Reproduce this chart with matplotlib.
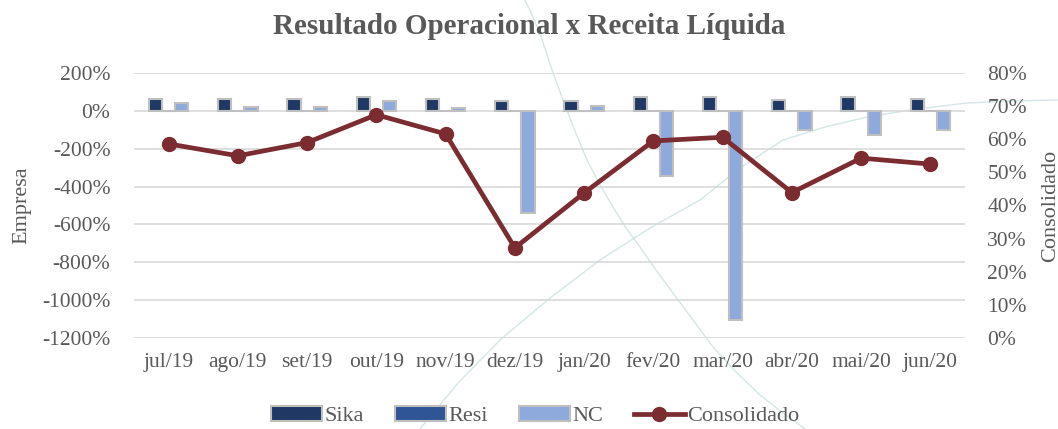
import numpy as np
import matplotlib.pyplot as plt
from matplotlib.ticker import FuncFormatter

meses = ['jul/19', 'ago/19', 'set/19', 'out/19', 'nov/19', 'dez/19',
         'jan/20', 'fev/20', 'mar/20', 'abr/20', 'mai/20', 'jun/20']
sika = [65, 60, 62, 72, 63, 50, 50, 72, 72, 58, 72, 62]
resi = [0, 0, 0, 0, 0, 0, 0, 0, 0, 0, 0, 0]
nc = [40, 22, 22, 50, 17, -541, 25, -342, -1106, -100, -127, -100]
consolidado = [58.6, 55.0, 59.0, 67.4, 61.6, 27.2, 43.8, 59.5, 60.6, 43.9, 54.3, 52.5]

plt.rcParams['font.family'] = ['Liberation Serif', 'DejaVu Serif']
cinza = '#595959'

fig = plt.figure(figsize=(10.58, 4.29), dpi=100)
W, H = 1058, 429

# faint decorative arcs behind the chart
deco = fig.add_axes([0, 0, 1, 1], zorder=-1)
deco.set_xlim(0, W)
deco.set_ylim(H, 0)
deco.axis('off')
arcos = [
    [(525, 0), (533, 17), (540, 33), (551, 67), (563, 100), (575, 131), (587, 160),
     (600, 185), (613, 207), (626, 228), (640, 247), (656, 270), (673, 293),
     (693, 320), (713, 347), (736, 372), (760, 395), (783, 413), (805, 429)],
    [(420, 429), (458, 383), (500, 340), (550, 298), (600, 260), (650, 228),
     (700, 200), (740, 168), (783, 140), (825, 127), (867, 117), (917, 109),
     (967, 103), (1010, 101), (1058, 100)],
]
for pts in arcos:
    px, py = zip(*pts)
    deco.plot(px, py, color='#C7DEDE', lw=1, alpha=0.75)

ax = fig.add_axes([134 / W, 1 - 338 / H, (965 - 134) / W, (338 - 73) / H])
ax2 = ax.twinx()
ax.patch.set_visible(False)
ax2.patch.set_visible(False)

x = np.arange(len(meses))
w = 0.19
ax.bar(x - w, sika, w, color='#1F3864', edgecolor='#BFBFBF', lw=1.5, label='Sika', zorder=3)
ax.bar(x, resi, w, color='#2F5597', edgecolor='#BFBFBF', lw=1.5, label='Resi', zorder=3)
ax.bar(x + w, nc, w, color='#8EA9DB', edgecolor='#BFBFBF', lw=1.5, label='NC', zorder=3)

ax2.plot(x, consolidado, color='#7B2C31', lw=3.4, marker='o', ms=10, label='Consolidado', zorder=4)

ax.set_xlim(-0.5, len(meses) - 0.5)
ax.set_ylim(-1200, 200)
ax.set_yticks(np.arange(-1200, 201, 200))
ax.yaxis.set_major_formatter(FuncFormatter(lambda v, p: f'{v:.0f}%'))
ax2.set_ylim(0, 80)
ax2.set_yticks(np.arange(0, 81, 10))
ax2.yaxis.set_major_formatter(FuncFormatter(lambda v, p: f'{v:.0f}%'))

ax.grid(axis='y', color='#D9D9D9', lw=1.2, zorder=0)
ax.set_axisbelow(True)
for a in (ax, ax2):
    for s in a.spines.values():
        s.set_visible(False)
    a.tick_params(length=0, labelsize=15.5, labelcolor=cinza)
ax.tick_params(axis='y', pad=17)
ax2.tick_params(axis='y', pad=16)
ax.tick_params(axis='x', pad=11)
ax.set_xticks(x)
ax.set_xticklabels(meses)

ax.set_ylabel('Empresa', fontsize=16, color=cinza, labelpad=8)
ax2.set_ylabel('Consolidado', fontsize=16, color=cinza, labelpad=10)

fig.text(0.5, 1 - 26 / H, 'Resultado Operacional x Receita Líquida', ha='center', va='center',
         fontsize=21, fontweight='bold', color=cinza)

h1, l1 = ax.get_legend_handles_labels()
h2, l2 = ax2.get_legend_handles_labels()
fig.legend(h1 + h2, l1 + l2, loc='center', bbox_to_anchor=(535 / W, 1 - 416 / H), ncol=4,
           frameon=False, fontsize=16, labelcolor=cinza, handlelength=2.3,
           handletextpad=0.1, columnspacing=1.4)

fig.savefig('out.png', dpi=100)
